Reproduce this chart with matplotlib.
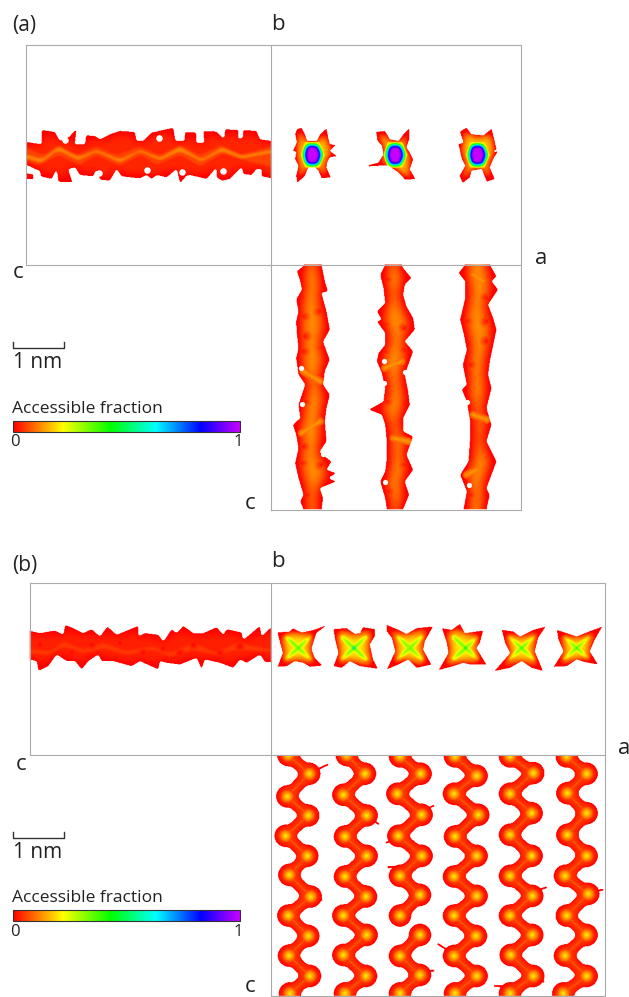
import numpy as np
import matplotlib
matplotlib.use("Agg")
import matplotlib.pyplot as plt
from matplotlib.colors import LinearSegmentedColormap
from matplotlib.patches import Rectangle
from matplotlib.path import Path

plt.rcParams['font.family'] = ['Open Sans', 'DejaVu Sans']

# colour scale of the accessible fraction
scale_stops = [(0.0, "#ff0000"), (0.22, "#ffff00"), (0.43, "#00ff00"), (0.63, "#00ffff"),
               (0.83, "#0000ff"), (1.0, "#c800ff")]
scale_ticks = ["0", "1"]

# --- outlines are read off the picture, in crop pixels (3x zoom) ---
# panel a, side view band, crop origin (0,90)
band_a_top = [(80,158),(125,165),(125,122),(165,128),(180,155),(208,142),(230,118),(225,165),(255,165),(258,138),
              (285,140),(300,150),(330,135),(360,125),(405,128),(410,155),(430,155),(455,130),(520,115),(527,155),
              (553,155),(555,128),(590,130),(590,160),(612,160),(610,125),(650,127),(672,150),(675,120),(715,122),
              (715,150),(728,145),(730,122),(770,125),(780,150),(815,155)]
band_a_bottom = [(815,268),(785,262),(785,240),(770,240),(755,258),(730,255),(725,235),(690,270),(665,275),(650,265),
                 (650,235),(620,270),(570,258),(560,260),(540,283),(530,240),(500,265),(470,258),(455,270),(440,258),
                 (420,268),(365,262),(350,240),(330,275),(300,272),(290,240),(280,262),(240,258),(225,235),(205,240),
                 (218,280),(175,278),(170,240),(155,270),(122,262),(120,245),(105,240),(80,228)]
band_a_bit = [(80,252),(100,255),(100,270),(80,270)]
band_a_mid = [(80,170),(130,190),(175,160),(230,190),(290,165),(350,190),(420,165),(480,190),(540,160),(600,190),
              (665,160),(720,190),(815,165),(815,240),(750,225),(670,200),(600,240),(540,205),(470,235),(420,205),
              (360,238),(290,205),(240,235),(175,205),(120,235),(80,222)]
band_a_core = [(80,188),(125,202),(175,164),(235,195),(290,174),(360,202),(420,174),(480,197),(540,164),(605,202),
               (665,166),(725,192),(815,174),(815,199),(725,216),(665,194),(605,226),(540,194),(480,222),(420,196),
               (360,229),(290,196),(235,222),(175,192),(125,229),(80,216)]
holes_a_side = [(195,150),(478,145),(298,250),(545,245),(668,243),(440,240)]

# panel a, end view, crop origin (270,110)
blobs_a = [
    ((127,137), [(80,60),(95,55),(105,75),(112,95),(140,95),(150,75),(170,57),(175,85),(180,105),(198,107),(180,125),(202,141),
                 (180,145),(172,160),(170,175),(183,205),(155,208),(145,185),(135,175),(115,175),(105,200),(82,222),(78,200),
                 (85,170),(75,150),(78,128),(68,125),(80,100),(75,75)]),
    ((375,137), [(318,68),(345,65),(360,90),(385,95),(400,75),(418,57),(418,90),(410,115),(420,130),(430,150),(420,180),
                 (437,210),(405,212),(385,190),(355,170),(330,170),(297,172),(293,168),(325,160),(340,135),(335,110),
                 (322,95)]),
    ((622,137), [(572,65),(590,55),(605,75),(640,78),(665,58),(672,85),(680,120),(668,130),(685,125),(670,150),(660,175),
                 (675,210),(650,218),(635,180),(605,185),(600,205),(578,222),(568,200),(585,170),(575,150),(565,105),
                 (580,100),(570,70)]),
]
blob_a_core = [(-22,-38),(22,-38),(38,0),(22,38),(-22,38),(-35,0)]

# panel a, top view channels, crop origin (270,262)
chan_a_left = [
    [(105,10),(80,30),(90,60),(95,85),(78,115),(85,150),(78,180),(80,215),(85,260),(78,290),(85,340),(105,370),(95,400),
     (85,430),(90,470),(68,490),(78,520),(85,560),(75,605),(85,650),(100,700),(90,720),(100,743)],
    [(345,10),(330,40),(340,80),(345,125),(320,150),(335,175),(320,180),(345,215),(345,250),(325,275),(320,300),(335,335),
     (345,380),(340,420),(295,445),(335,460),(345,490),(350,540),(350,590),(345,630),(330,660),(345,710),(350,743)],
    [(585,10),(565,35),(585,60),(585,110),(570,175),(580,215),(590,265),(578,310),(590,370),(575,385),(590,420),(600,480),
     (600,530),(595,600),(570,640),(590,690),(580,743)],
]
chan_a_right = [
    [(155,10),(165,60),(175,90),(155,95),(170,150),(180,205),(160,240),(170,270),(180,295),(165,330),(160,370),(180,400),
     (170,440),(165,480),(170,540),(150,570),(165,585),(185,600),(170,625),(200,635),(175,650),(200,660),(150,680),
     (160,710),(155,743)],
    [(395,10),(400,20),(425,50),(405,70),(400,100),(410,135),(430,170),(435,205),(405,240),(430,270),(405,340),(415,390),
     (420,430),(400,470),(400,510),(430,525),(410,580),(430,625),(405,660),(418,700),(400,743)],
    [(660,10),(680,45),(665,60),(685,85),(655,130),(670,170),(680,205),(660,300),(655,340),(665,380),(650,440),(665,490),
     (650,540),(680,600),(650,680),(660,700),(650,743)],
]
ridges_a_top = [[(100,330),(150,360)],[(95,515),(150,480)],[(370,530),(415,540)],[(610,460),(650,475)],
                [(590,640),(620,625)],[(610,40),(640,60)],[(345,320),(395,300)]]
dark_a_top = [(95,110),(150,150),(105,225),(155,260),(100,165),(100,270),(160,320),(105,420),(165,410),(100,555),(160,530),
              (95,605),(155,610),(110,700),(350,55),(350,120),(345,190),(345,270),(405,200),(405,265),(350,420),(405,420),
              (355,500),(355,610),(405,610),(355,690),(590,65),(590,120),(590,180),(595,245),(650,110),(650,180),(650,240),
              (650,325),(655,385),(600,310),(610,510),(655,520),(660,625),(600,700)]
holes_a_top = [(95,425),(92,318),(158,575),(342,297),(343,362),(405,330),(592,420),(598,668),(345,660)]

# panel b, side view band, crop origin (20,620)
band_b_top = [(30,33),(60,40),(105,32),(130,45),(135,15),(160,25),(190,40),(215,28),(240,50),(262,20),(290,45),(355,18),
              (355,50),(375,40),(415,45),(430,65),(455,28),(470,40),(490,18),(520,40),(550,40),(590,22),(610,45),(620,28),
              (665,38),(670,60),(720,18),(725,50),(750,25),(753,128)]
band_b_bottom = [(735,128),(720,105),(680,130),(660,120),(640,145),(600,130),(555,120),(545,150),(530,115),(480,135),
                 (440,130),(420,125),(415,150),(360,125),(335,140),(280,125),(245,125),(235,105),(205,125),(185,150),
                 (165,125),(140,125),(110,105),(85,140),(55,155),(50,125),(30,120)]
band_b_core = [(30,80),(90,85),(130,55),(190,80),(250,60),(320,85),(400,70),(450,90),(520,60),(590,90),(650,60),(753,80),
               (753,105),(650,100),(590,115),(520,100),(450,120),(400,100),(320,115),(250,95),(190,110),(130,90),(90,115),(30,110)]
dark_b_side = [(60,75),(155,100),(215,75),(300,70),(370,100),(430,85),(480,100),(600,100),(660,80),(520,75)]

# panel b, end view, crop origin (270,610)
blobs_b = [
    ((85,115), [(22,68),(60,65),(68,55),(95,68),(125,62),(172,46),(140,70),(130,100),(125,118),(135,145),(158,168),(120,172),
                (100,160),(75,155),(50,170),(22,172),(38,130),(30,100)]),
    ((252,115), [(190,58),(230,55),(255,72),(270,70),(278,52),(315,58),(315,80),(300,105),(310,150),(325,178),(270,170),
                 (240,155),(215,175),(190,170),(205,130),(195,90)]),
    ((420,115), [(350,45),(385,60),(410,72),(440,55),(490,50),(465,95),(460,120),(485,165),(440,175),(415,150),(385,165),
                 (350,180),(375,125),(365,85),(350,65)]),
    ((587,115), [(515,55),(545,60),(570,42),(585,70),(640,62),(630,100),(620,115),(650,165),(600,165),(580,160),(550,170),
                 (505,182),(535,130),(530,100)]),
    ((755,115), [(695,60),(730,65),(750,80),(790,60),(828,50),(805,85),(795,125),(820,185),(785,175),(755,155),(720,175),
                 (672,185),(720,130),(705,100)]),
    ((920,115), [(860,60),(890,70),(920,80),(965,62),(998,50),(975,90),(960,125),(985,165),(945,158),(920,150),(890,170),
                 (850,172),(880,125),(865,90)]),
]
peaks_b = [0.47, 0.78, 0.40, 0.6, 0.5, 0.5]
arm_ends_b = [(-35,-32),(35,-32),(35,32),(-35,32)]

# panel b, top view channels (lobe centres), crop origin (270,750)
lobes_b = [
    [(55,16),(118,72),(52,140),(115,197),(47,258),(112,318),(58,375),(122,440),(55,497),(115,558),(57,617),(120,678),(60,730)],
    [(230,16),(285,72),(220,135),(290,197),(225,260),(290,318),(225,380),(288,440),(220,497),(290,555),(220,615),(288,678),(225,730)],
    [(390,20),(452,72),(382,132),(455,195),(385,258),(455,318),(390,378),(450,435),(390,497),(450,555),(390,618),(450,675),(390,730)],
    [(555,20),(620,78),(552,132),(625,195),(555,260),(620,318),(552,380),(620,438),(552,497),(618,558),(552,618),(620,678),(555,730)],
    [(720,20),(790,70),(720,132),(785,190),(720,255),(785,318),(720,378),(787,438),(720,497),(787,555),(722,615),(790,678),(720,730)],
    [(890,20),(950,72),(892,130),(950,190),(892,255),(950,318),(885,378),(955,432),(890,497),(950,555),(885,617),(950,678),(880,730)],
]
gaps_b = {2: [8]}  # channel 3 is broken after its 9th lobe
spikes_b = [[(140,60),(172,45)],[(125,440),(155,450)],[(300,205),(325,222)],[(455,185),(490,168)],[(385,265),(350,278)],
            [(450,665),(490,662)],[(540,605),(505,583)],[(790,425),(828,413)],[(720,710),(675,708)],[(790,680),(820,695)],
            [(960,425),(998,420)],[(385,350),(355,352)],[(880,378),(858,388)]]

cmap = LinearSegmentedColormap.from_list("access", scale_stops)
cmap.set_bad((1, 1, 1, 0))

# the fraction map is held on a grid twice as fine as the picture
SS = 2
field = np.full((997 * SS, 629 * SS), np.nan)
X, Y = np.meshgrid((np.arange(629 * SS) + 0.5) / SS, (np.arange(997 * SS) + 0.5) / SS)


def crop(pts, x0, y0):
    return np.array(pts, dtype=float) / 3 + [x0, y0]


def window(pts, pad=25):
    x0 = max(int((pts[:, 0].min() - pad) * SS), 0)
    x1 = min(int((pts[:, 0].max() + pad) * SS), 629 * SS)
    y0 = max(int((pts[:, 1].min() - pad) * SS), 0)
    y1 = min(int((pts[:, 1].max() + pad) * SS), 997 * SS)
    return slice(y0, y1), slice(x0, x1)


def box_blur(a, r):
    n = max(int(r * SS), 1)
    for axis in (0, 1):
        for _ in range(2):
            p = [(0, 0), (0, 0)]
            p[axis] = (n + 1, n)
            c = np.cumsum(np.pad(a, p, mode="edge"), axis=axis)
            hi = np.take(c, range(2 * n + 1, c.shape[axis]), axis=axis)
            lo = np.take(c, range(0, c.shape[axis] - 2 * n - 1), axis=axis)
            a = (hi - lo) / (2 * n + 1)
    return a


def shape(poly, sl, limits=None, rd=1.0, rdepth=6.0):
    # rounded mask of an outline, and how deep each point lies inside it
    xs, ys = X[sl], Y[sl]
    if limits is not None:
        xs = np.clip(xs, limits[0] + 1, limits[1] - 1)
        ys = np.clip(ys, limits[2] + 1, limits[3] - 1)
    m = Path(poly).contains_points(np.c_[xs.ravel(), ys.ravel()]).reshape(xs.shape).astype(float)
    m = box_blur(m, rd) > 0.5
    d = np.clip((box_blur(m.astype(float), rdepth) - 0.5) * 2, 0, 1)
    return m, d


def seg_dist(sl, pts):
    xs, ys = X[sl], Y[sl]
    out = np.full(xs.shape, 1e9)
    for a, b in zip(pts[:-1], pts[1:]):
        ab = b - a
        t = np.clip(((xs - a[0]) * ab[0] + (ys - a[1]) * ab[1]) / (ab @ ab), 0, 1)
        out = np.minimum(out, np.hypot(xs - a[0] - t * ab[0], ys - a[1] - t * ab[1]))
    return out


def paint(sl, m, v, limits=None):
    if limits is not None:
        m = m & (X[sl] >= limits[0]) & (X[sl] <= limits[1]) & (Y[sl] >= limits[2]) & (Y[sl] <= limits[3])
    field[sl] = np.where(m, np.fmax(field[sl], v), field[sl])


def darken(pts, low, radius, slope):
    # darker round patches inside an existing part of the map
    for q in pts:
        sl = window(q[None, :], radius + 2)
        dist = np.hypot(X[sl] - q[0], Y[sl] - q[1])
        field[sl] = np.where(np.isfinite(field[sl]), np.minimum(field[sl], low + slope * dist / radius), field[sl])


# panel a side view
lim = (26, 271, 45, 265)
o = crop(band_a_top + band_a_bottom, 0, 90)
sl = window(o)
m, d = shape(o, sl, lim)
_, dm = shape(crop(band_a_mid, 0, 90), sl, lim, rdepth=2)
_, dc = shape(crop(band_a_core, 0, 90), sl, lim, rd=0.5, rdepth=2.5)
paint(sl, m, np.maximum.reduce([0.035 * d, 0.06 * dm, 0.125 * dc]), lim)
o = crop(band_a_bit, 0, 90)
sl = window(o)
m, d = shape(o, sl, lim, rd=0.5)
paint(sl, m, 0.01 * d, lim)

# panel a end view
for centre, pts in blobs_a:
    c = crop([centre], 270, 110)[0]
    o = crop(pts, 270, 110)
    sl = window(o)
    m, d = shape(o, sl, rd=0.7, rdepth=5)
    mc, dc = shape(c + np.array(blob_a_core) / 3, sl, rd=0.5, rdepth=3.5)
    v = 0.17 * d
    paint(sl, m, np.where(mc, 0.2 + 0.8 * dc ** 1.3, v))

# panel a top view
lim = (271, 521, 265, 510)
for left, right in zip(chan_a_left, chan_a_right):
    o = np.vstack([crop(left, 270, 262), crop(right, 270, 262)[::-1]])
    sl = window(o)
    m, d = shape(o, sl, lim, rdepth=8)
    paint(sl, m, 0.12 * d ** 1.5, lim)
for ridge in ridges_a_top:
    r = crop(ridge, 270, 262)
    sl = window(r, 10)
    dist = seg_dist(sl, r)
    paint(sl, (dist < 4) & np.isfinite(field[sl]), 0.135 * (1 - dist / 8))
darken(crop(dark_a_top, 270, 262), 0.015, 7, 0.09)

# panel b side view
lim = (29.5, 271, 583, 755)
o = crop(band_b_top + band_b_bottom, 20, 620)
sl = window(o)
m, d = shape(o, sl, lim)
_, dc = shape(crop(band_b_core, 20, 620), sl, lim, rd=0.5, rdepth=3)
paint(sl, m, np.maximum(0.03 * d, 0.055 * dc), lim)
darken(crop(dark_b_side, 20, 620), 0.005, 5, 0.04)

# panel b end view
for (centre, pts), peak in zip(blobs_b, peaks_b):
    c = crop([centre], 270, 610)[0]
    o = crop(pts, 270, 610)
    sl = window(o)
    m, d = shape(o, sl, rd=0.7, rdepth=6)
    dist = np.hypot(X[sl] - c[0], Y[sl] - c[1])
    darm = np.min([seg_dist(sl, np.array([c, c + np.array(a) / 3])) for a in arm_ends_b], axis=0)
    v = np.maximum.reduce([0.2 * d, 0.34 * np.clip(1 - darm / 8, 0, 1) * d, peak * np.clip(1 - dist / 3.5, 0, 1)])
    paint(sl, m, v)

# panel b top view
lim = (271, 605, 755, 996)
for i, lobes in enumerate(lobes_b):
    p = crop(lobes, 270, 750)
    sl = window(p)
    dl = np.full(X[sl].shape, 1e9)
    start = 0
    for cut in gaps_b.get(i, []) + [len(p) - 1]:
        dl = np.minimum(dl, seg_dist(sl, p[start:cut + 1]))
        start = cut + 1
    dp = np.min([np.hypot(X[sl] - q[0], Y[sl] - q[1]) for q in p], axis=0)
    m = box_blur(((dl < 6.5) | (dp < 11.5)).astype(float), 2) > 0.5
    d = np.clip((box_blur(m.astype(float), 4) - 0.5) * 2, 0, 1)
    v = np.maximum.reduce([0.05 * d, 0.21 * np.clip(1 - dp / 8, 0, 1) ** 0.8, 0.08 * np.clip(1 - dl / 3, 0, 1)])
    paint(sl, m, v, lim)
for sp in spikes_b:
    p = crop(sp, 270, 750)
    sl = window(p, 6)
    dist = seg_dist(sl, p)
    paint(sl, dist < 1.1, 0.0 * dist, lim)

fig = plt.figure(figsize=(6.29, 9.97), dpi=100)
ax = fig.add_axes([0, 0, 1, 1])
ax.imshow(np.ma.masked_invalid(field), cmap=cmap, vmin=0, vmax=1, extent=[0, 629, 997, 0], aspect="auto", zorder=2)

# small gaps in the maps
hp = crop(holes_a_side, 0, 90)
ax.scatter(hp[:, 0], hp[:, 1], s=22, c="white", lw=0, zorder=3)
hp = crop(holes_a_top, 270, 262)
ax.scatter(hp[:, 0], hp[:, 1], s=14, c="white", lw=0, zorder=3)

# frames
frame = "#aaaaaa"
for xs, ys in [([26, 521, 521, 26, 26], [45, 45, 265, 265, 45]), ([271, 271], [45, 510]),
               ([271, 521, 521], [510, 510, 265]),
               ([29.5, 605, 605, 29.5, 29.5], [583, 583, 755, 755, 583]), ([271, 271], [583, 997]),
               ([271, 605, 605], [996, 996, 755])]:
    ax.plot(xs, ys, color=frame, lw=0.8, zorder=4)

# scale bars and colour bars
grad = np.linspace(0, 1, 256).reshape(1, -1)
for bar_y, cb_y, txt_y, tick_y in [(348.5, 421, 409, 442), (838, 910, 898, 932)]:
    ax.plot([13, 13, 64, 64], [bar_y - 6, bar_y, bar_y, bar_y - 6], color="#333333", lw=1)
    ax.text(13, bar_y + 14, "1 nm", fontsize=15, color="#222222", va="center")
    ax.text(12, txt_y, "Accessible fraction", fontsize=12.5, color="#222222", va="center")
    ax.imshow(grad, cmap=cmap, extent=[12.5, 239.5, cb_y + 11, cb_y], aspect="auto", zorder=2)
    ax.add_patch(Rectangle((12.5, cb_y), 227, 11, fill=False, ec="#333333", lw=0.8, zorder=3))
    ax.text(15, tick_y, scale_ticks[0], fontsize=12, color="#222222", ha="center", va="center")
    ax.text(238, tick_y, scale_ticks[1], fontsize=12, color="#222222", ha="center", va="center")
ax.set_xlim(0, 629)
ax.set_ylim(997, 0)
ax.axis("off")

# axis letters
for x, y, s, fs in [(12, 26, "(a)", 15), (278, 24, "b", 16), (18, 272, "c", 16), (541, 258, "a", 16), (250, 503, "c", 16),
                    (12, 565, "(b)", 15), (278, 561, "b", 16), (21, 764, "c", 16), (624, 748, "a", 16), (250, 986, "c", 16)]:
    ax.text(x, y, s, fontsize=fs, color="#222222", ha="left" if s[0] == "(" else "center", va="center")

fig.savefig("out.png", dpi=100)
